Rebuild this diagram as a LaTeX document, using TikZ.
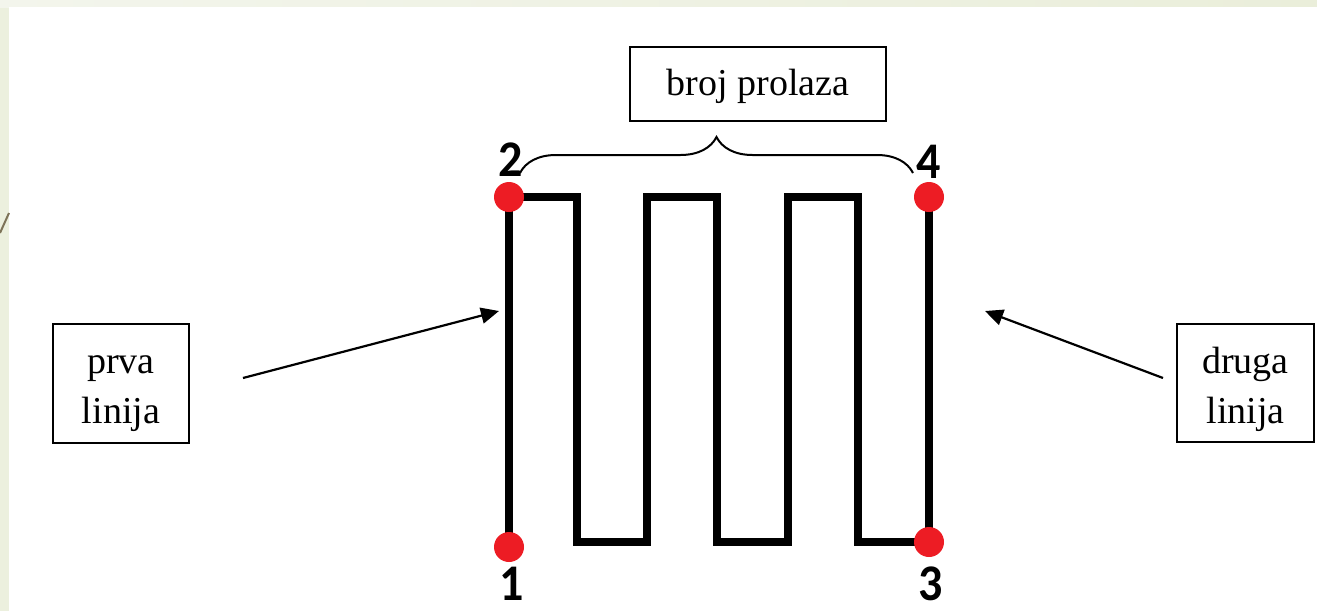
\documentclass[tikz,border=0pt]{standalone}
\usepackage{fontspec}
\setmainfont{Liberation Serif}
\newfontfamily\digitfont{Carlito}
\usetikzlibrary{arrows.meta,decorations.pathreplacing}
\definecolor{bgleft}{HTML}{ECF0DE}
\definecolor{bgtopl}{HTML}{F3F5EC}
\definecolor{bgtopr}{HTML}{EAEEDA}
\definecolor{diagcol}{HTML}{7D7358}
\definecolor{dotred}{HTML}{ED1C24}
\pgfdeclarelayer{back}
\pgfsetlayers{back,main}
\tikzset{
  lblbox/.style={draw=black, line width=2.5pt, fill=white, inner sep=0pt},
  lbltext/.style={font=\fontsize{38}{38}\selectfont, inner sep=0pt, anchor=base},
  digit/.style={font=\digitfont\bfseries\fontsize{48}{48}\selectfont, inner sep=0pt, anchor=base},
  dot/.style={circle, fill=dotred, minimum size=30pt, inner sep=0pt},
  serp/.style={line width=8.5pt, line join=miter, line cap=butt},
  pointer/.style={line width=2.2pt, -{Triangle[length=18pt,width=16pt]}},
}
\begin{document}
\begin{tikzpicture}[x=1pt,y=-1pt]
\useasboundingbox (0,0) rectangle (1317,611);
\begin{pgfonlayer}{back}
\fill[bgleft] (0,0) rectangle (1317,611);
\shade[left color=bgtopl, right color=bgtopr] (0,0) rectangle (1317,7);
\fill[white] (9,7) rectangle (1317,611);
\draw[diagcol, line width=2pt] (0,233) -- (9,213);
\end{pgfonlayer}

% dots
\node[dot] (d1) at (509,547) {};
\node[dot] (d2) at (509,197) {};
\node[dot] (d3) at (929,542) {};
\node[dot] (d4) at (929,197) {};

% serpentine
\begin{pgfonlayer}{back}
\draw[serp] (d1.center) -- (d2.center) -- (577,197) -- (577,542) -- (647,542) -- (647,197)
  -- (717,197) -- (717,542) -- (788,542) -- (788,197) -- (858,197) -- (858,542) -- (d3.center);
\draw[serp] (d3.center) -- (d4.center);
\end{pgfonlayer}

% digits
\node[digit] (n2) at (511,176) {\scalebox{1}[1.07]{2}};
\node[digit] (n4) at (929,178) {\scalebox{1}[1.07]{4}};
\node[digit] (n1) at (512,600) {\scalebox{1}[1.07]{1}};
\node[digit] (n3) at (931,600) {\scalebox{1}[1.07]{3}};

% brace
\coordinate (bl) at (520,173);
\coordinate (br) at (913,173);
\draw[decorate, decoration={brace, amplitude=36pt}, line width=2pt] (bl) -- (br);

% top box
\node[lblbox, minimum width=256pt, minimum height=74pt] (broj) at (758,84) {};
\node[lbltext] (brojt) at (758,95) {broj prolaza};

% left box
\node[lblbox, minimum width=136pt, minimum height=119pt] (prva) at (121,383.5) {};
\node[lbltext] (prva1) at (121,373) {prva};
\node[lbltext] (prva2) at (121,423) {linija};

% right box
\node[lblbox, minimum width=137pt, minimum height=118pt] (druga) at (1245.5,383) {};
\node[lbltext] (druga1) at (1245.5,373) {druga};
\node[lbltext] (druga2) at (1245.5,423) {linija};

% arrows
\coordinate (a1s) at (243,378);
\coordinate (a1e) at (499,311);
\coordinate (a2s) at (1163,378);
\coordinate (a2e) at (985,311);
\draw[pointer] (a1s) -- (a1e);
\draw[pointer] (a2s) -- (a2e);
\end{tikzpicture}
\end{document}
